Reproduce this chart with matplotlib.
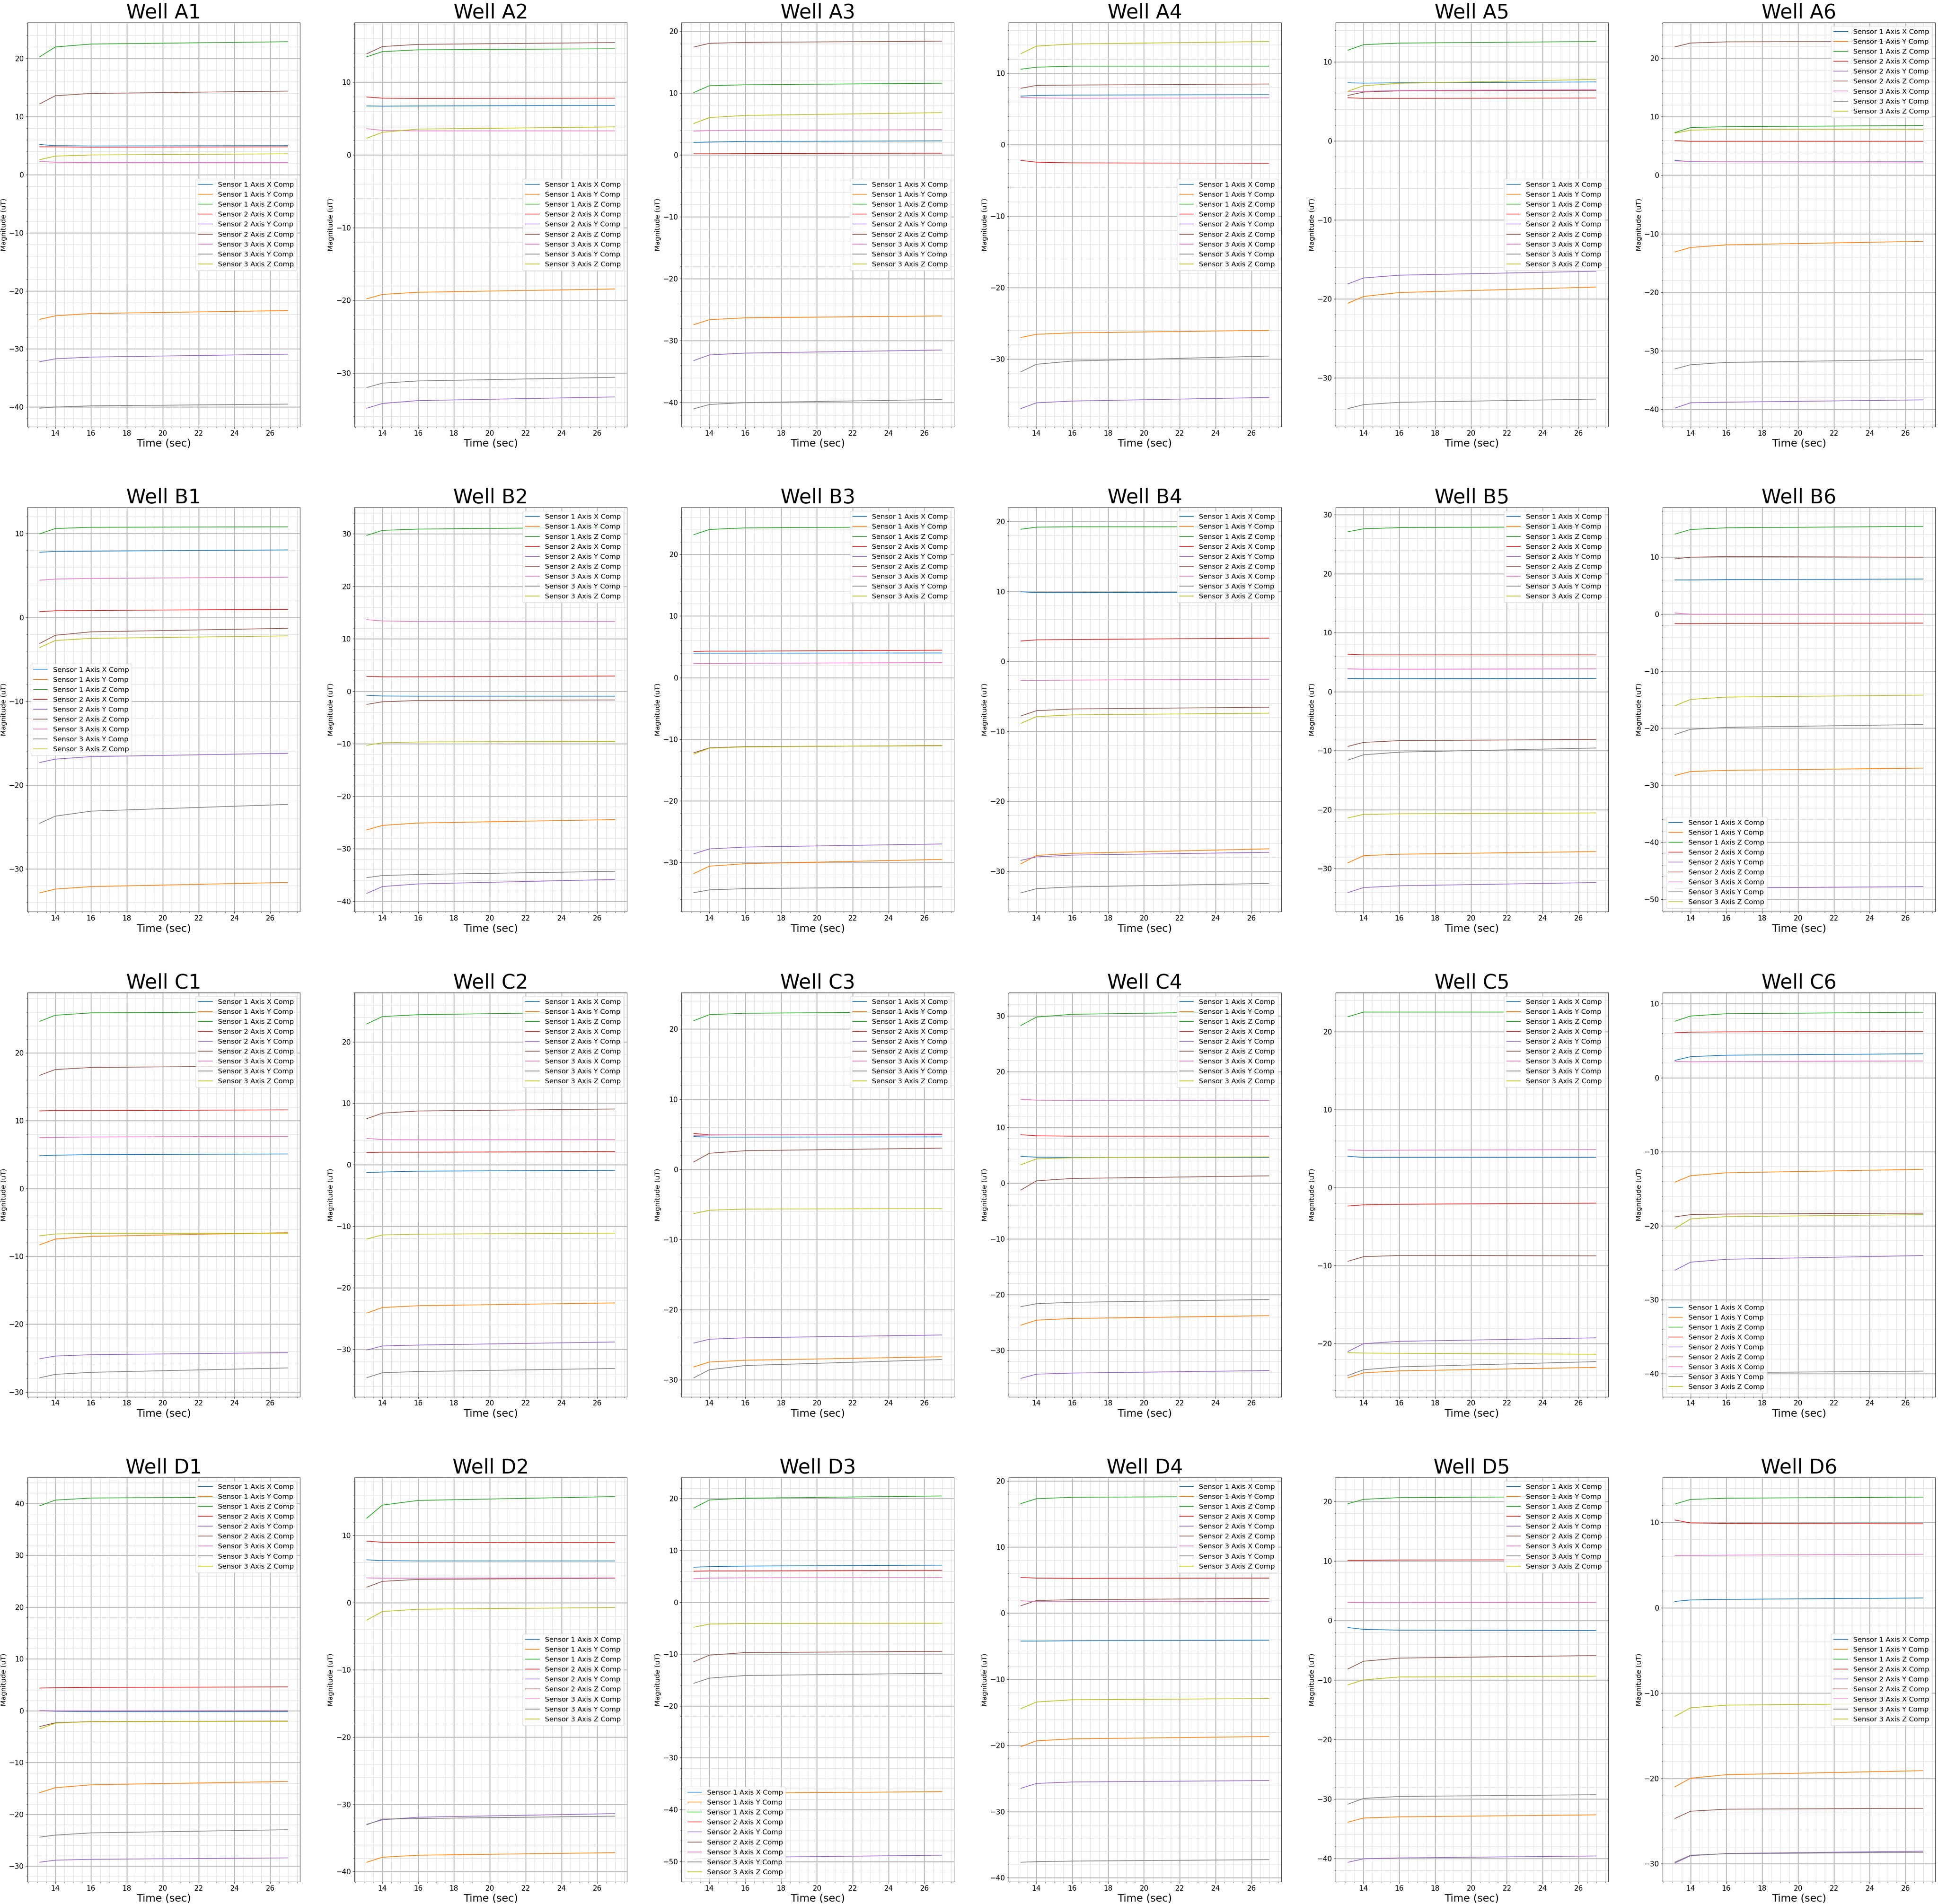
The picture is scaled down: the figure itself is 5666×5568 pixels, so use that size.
import matplotlib
matplotlib.use("Agg")
import matplotlib.pyplot as plt
from matplotlib.ticker import AutoMinorLocator

# ---------------- data ----------------
TIME = [13.13, 14.0, 16.0, 26.97]   # seconds at which values were read

LABELS = ["Sensor 1 Axis X Comp", "Sensor 1 Axis Y Comp", "Sensor 1 Axis Z Comp",
          "Sensor 2 Axis X Comp", "Sensor 2 Axis Y Comp", "Sensor 2 Axis Z Comp",
          "Sensor 3 Axis X Comp", "Sensor 3 Axis Y Comp", "Sensor 3 Axis Z Comp"]

WELLS = ["A1", "A2", "A3", "A4", "A5", "A6",
         "B1", "B2", "B3", "B4", "B5", "B6",
         "C1", "C2", "C3", "C4", "C5", "C6",
         "D1", "D2", "D3", "D4", "D5", "D6"]

# each well: 9 series (order as LABELS), values at TIME
A1 = [[5.2, 5.0, 4.95, 5.0], [-24.9, -24.3, -23.9, -23.4], [20.3, 22.0, 22.5, 22.9],
      [4.8, 4.8, 4.75, 4.8], [-32.2, -31.7, -31.4, -30.9], [12.2, 13.6, 14.0, 14.4],
      [2.3, 2.15, 2.1, 2.1], [-40.2, -40.0, -39.8, -39.5], [2.6, 3.2, 3.4, 3.6]]
A2 = [[6.73, 6.7, 6.73, 6.8], [-19.8, -19.2, -18.9, -18.45], [13.5, 14.2, 14.45, 14.6],
      [7.96, 7.8, 7.76, 7.8], [-34.85, -34.2, -33.8, -33.3], [13.9, 14.9, 15.2, 15.45],
      [3.6, 3.37, 3.3, 3.3], [-32.0, -31.4, -31.1, -30.6], [2.3, 3.1, 3.55, 3.85]]
A3 = [[2.05, 2.1, 2.2, 2.28], [-27.4, -26.6, -26.3, -26.0], [10.1, 11.2, 11.35, 11.6],
      [0.2, 0.2, 0.23, 0.3], [-33.2, -32.3, -32.0, -31.5], [17.45, 18.05, 18.2, 18.4],
      [3.86, 3.95, 4.0, 4.1], [-41.0, -40.3, -40.0, -39.5], [5.1, 6.05, 6.4, 6.85]]
A4 = [[6.8, 6.9, 6.95, 7.0], [-27.0, -26.55, -26.35, -26.0], [10.57, 10.85, 11.0, 11.0],
      [-2.2, -2.45, -2.55, -2.6], [-36.95, -36.15, -35.9, -35.4], [7.9, 8.3, 8.35, 8.5],
      [6.6, 6.55, 6.5, 6.55], [-31.8, -30.75, -30.3, -29.6], [12.75, 13.8, 14.1, 14.45]]
A5 = [[7.37, 7.33, 7.37, 7.48], [-20.55, -19.7, -19.2, -18.5], [11.5, 12.2, 12.4, 12.6],
      [5.47, 5.4, 5.4, 5.44], [-18.1, -17.35, -17.0, -16.5], [5.77, 6.2, 6.35, 6.4],
      [6.28, 6.3, 6.4, 6.5], [-33.9, -33.4, -33.1, -32.7], [6.3, 7.0, 7.3, 7.8]]
A6 = [[2.55, 2.3, 2.3, 2.3], [-13.1, -12.35, -11.9, -11.3], [7.3, 8.15, 8.3, 8.5],
      [5.9, 5.8, 5.8, 5.8], [-39.8, -38.9, -38.8, -38.4], [21.95, 22.6, 22.8, 22.9],
      [2.45, 2.35, 2.3, 2.25], [-33.1, -32.4, -32.0, -31.5], [7.2, 7.7, 7.85, 7.8]]
B1 = [[7.77, 7.87, 7.9, 8.05], [-32.85, -32.4, -32.1, -31.6], [9.97, 10.6, 10.75, 10.8],
      [0.69, 0.79, 0.83, 0.96], [-17.3, -16.9, -16.6, -16.2], [-3.1, -2.13, -1.72, -1.3],
      [4.44, 4.57, 4.65, 4.8], [-24.55, -23.7, -23.1, -22.3], [-3.6, -2.75, -2.5, -2.2]]
B2 = [[-0.77, -0.9, -0.93, -0.93], [-26.4, -25.55, -25.1, -24.45], [29.7, 30.65, 30.9, 31.25],
      [2.85, 2.75, 2.75, 2.9], [-38.5, -37.2, -36.7, -35.85], [-2.5, -2.0, -1.75, -1.65],
      [13.65, 13.4, 13.3, 13.3], [-35.5, -35.1, -34.9, -34.3], [-10.3, -9.8, -9.65, -9.55]]
B3 = [[3.97, 3.97, 3.97, 4.0], [-31.8, -30.6, -30.2, -29.5], [23.2, 24.05, 24.3, 24.5],
      [4.25, 4.3, 4.3, 4.45], [-28.6, -27.8, -27.5, -27.0], [-12.2, -11.4, -11.2, -11.05],
      [2.3, 2.3, 2.33, 2.43], [-34.9, -34.45, -34.25, -33.95], [-12.4, -11.45, -11.25, -11.0]]
B4 = [[9.95, 9.83, 9.83, 9.88], [-28.95, -27.75, -27.45, -26.8], [18.9, 19.2, 19.25, 19.25],
      [2.92, 3.08, 3.13, 3.33], [-28.45, -27.95, -27.7, -27.3], [-7.8, -7.05, -6.8, -6.55],
      [-2.72, -2.72, -2.67, -2.55], [-33.1, -32.5, -32.25, -31.75], [-8.85, -7.9, -7.65, -7.4]]
B5 = [[2.24, 2.2, 2.2, 2.24], [-29.0, -27.8, -27.55, -27.1], [27.1, 27.6, 27.8, 27.95],
      [6.34, 6.24, 6.24, 6.24], [-34.05, -33.2, -32.9, -32.35], [-9.27, -8.6, -8.3, -8.1],
      [3.85, 3.8, 3.8, 3.85], [-11.6, -10.7, -10.25, -9.55], [-21.4, -20.8, -20.7, -20.55]]
B6 = [[6.0, 6.0, 6.06, 6.16], [-28.3, -27.6, -27.4, -27.0], [14.05, 14.85, 15.15, 15.4],
      [-1.67, -1.67, -1.62, -1.57], [-48.2, -48.0, -48.0, -47.8], [9.7, 10.0, 10.1, 10.0],
      [0.2, 0.0, 0.0, 0.0], [-21.1, -20.2, -19.85, -19.35], [-16.06, -14.95, -14.55, -14.2]]
C1 = [[4.84, 4.92, 5.0, 5.1], [-8.3, -7.45, -7.05, -6.5], [24.66, 25.55, 25.9, 26.05],
      [11.45, 11.5, 11.5, 11.6], [-25.1, -24.7, -24.5, -24.2], [16.7, 17.55, 17.85, 18.1],
      [7.5, 7.55, 7.6, 7.7], [-27.9, -27.4, -27.1, -26.45], [-6.96, -6.7, -6.6, -6.6]]
C2 = [[-1.26, -1.17, -1.03, -0.9], [-24.1, -23.2, -22.9, -22.45], [22.9, 24.1, 24.4, 24.85],
      [2.0, 2.05, 2.05, 2.15], [-30.1, -29.45, -29.3, -28.8], [7.5, 8.4, 8.75, 9.07],
      [4.3, 4.1, 4.07, 4.1], [-34.6, -33.8, -33.6, -33.1], [-12.05, -11.4, -11.27, -11.1]]
C3 = [[4.67, 4.6, 4.6, 4.63], [-28.15, -27.45, -27.2, -26.7], [21.2, 22.05, 22.25, 22.45],
      [5.12, 4.92, 4.92, 4.96], [-24.75, -24.2, -24.0, -23.6], [1.07, 2.3, 2.66, 3.03],
      [4.84, 4.88, 4.92, 5.04], [-29.7, -28.55, -27.95, -27.1], [-6.3, -5.82, -5.65, -5.6]]
C4 = [[4.8, 4.65, 4.6, 4.6], [-25.5, -24.6, -24.3, -23.8], [28.3, 29.8, 30.3, 30.8],
      [8.68, 8.48, 8.42, 8.42], [-35.05, -34.3, -34.1, -33.65], [-1.24, 0.41, 0.83, 1.3],
      [15.04, 14.88, 14.83, 14.83], [-22.17, -21.65, -21.4, -20.9], [3.3, 4.34, 4.55, 4.7]]
C5 = [[4.02, 3.87, 3.87, 3.87], [-24.37, -23.74, -23.48, -23.04], [21.9, 22.5, 22.5, 22.5],
      [-2.36, -2.21, -2.14, -1.99], [-21.0, -20.0, -19.7, -19.25], [-9.44, -8.85, -8.7, -8.74],
      [4.83, 4.76, 4.8, 4.87], [-24.07, -23.34, -22.97, -22.3], [-21.16, -21.2, -21.23, -21.35]]
C6 = [[2.34, 2.84, 3.04, 3.23], [-14.1, -13.24, -12.85, -12.38], [7.63, 8.33, 8.64, 8.84],
      [6.07, 6.15, 6.19, 6.27], [-26.0, -24.92, -24.53, -24.03], [-18.8, -18.5, -18.42, -18.3],
      [2.22, 2.14, 2.18, 2.26], [-40.1, -39.9, -39.84, -39.64], [-20.37, -19.08, -18.77, -18.5]]
D1 = [[0.05, -0.1, -0.17, -0.17], [-15.8, -14.86, -14.3, -13.65], [39.55, 40.65, 41.05, 41.27],
      [4.38, 4.44, 4.5, 4.6], [-29.23, -28.84, -28.67, -28.4], [-3.05, -2.33, -2.1, -2.0],
      [0.05, 0.0, 0.0, 0.05], [-24.4, -24.0, -23.57, -22.96], [-3.5, -2.4, -2.1, -2.05]]
D2 = [[6.37, 6.24, 6.2, 6.2], [-38.6, -37.86, -37.56, -37.18], [12.56, 14.5, 15.2, 15.77],
      [9.15, 8.97, 8.93, 8.93], [-32.95, -32.3, -31.9, -31.37], [2.3, 3.16, 3.46, 3.63],
      [3.68, 3.63, 3.63, 3.68], [-33.03, -32.18, -32.1, -31.75], [-2.6, -1.32, -0.98, -0.73]]
D3 = [[6.76, 6.87, 6.98, 7.15], [-37.25, -37.03, -36.8, -36.53], [18.18, 19.73, 20.07, 20.5],
      [5.99, 6.04, 6.04, 6.15], [-49.56, -49.33, -49.2, -48.78], [-11.47, -10.2, -9.7, -9.48],
      [4.55, 4.66, 4.71, 4.77], [-15.63, -14.63, -14.13, -13.69], [-4.82, -4.21, -4.1, -4.05]]
D4 = [[-4.22, -4.22, -4.17, -4.09], [-20.17, -19.3, -19.0, -18.65], [16.57, 17.3, 17.52, 17.65],
      [5.39, 5.3, 5.26, 5.3], [-26.48, -25.74, -25.52, -25.3], [1.13, 1.91, 2.04, 2.22],
      [1.87, 1.74, 1.74, 1.78], [-37.65, -37.57, -37.48, -37.26], [-14.43, -13.43, -13.09, -12.91]]
D5 = [[-1.2, -1.5, -1.64, -1.69], [-33.9, -33.2, -33.0, -32.66], [19.6, 20.34, 20.63, 20.82],
      [10.1, 10.1, 10.14, 10.19], [-40.63, -40.05, -39.9, -39.57], [-8.16, -6.86, -6.33, -5.9],
      [3.04, 3.0, 3.0, 3.04], [-30.87, -29.9, -29.57, -29.28], [-10.82, -10.0, -9.5, -9.37]]
D6 = [[0.74, 0.91, 0.98, 1.14], [-20.98, -19.97, -19.56, -19.09], [12.15, 12.69, 12.83, 12.96],
      [10.27, 9.93, 9.87, 9.83], [-29.9, -29.06, -28.79, -28.52], [-24.68, -23.84, -23.6, -23.5],
      [6.13, 6.13, 6.16, 6.26], [-29.8, -28.99, -28.82, -28.65], [-12.73, -11.72, -11.41, -11.21]]

WELL_DATA = [A1, A2, A3, A4, A5, A6, B1, B2, B3, B4, B5, B6,
             C1, C2, C3, C4, C5, C6, D1, D2, D3, D4, D5, D6]

YLIMS = [(-43.4, 26.2), (-37.4, 18.2), (-43.9, 21.4), (-39.5, 17.1), (-36.2, 15.0), (-43.0, 26.1),
         (-35.1, 13.1), (-42.0, 35.0), (-38.0, 27.6), (-35.8, 22.0), (-37.3, 31.2), (-52.2, 18.7),
         (-30.7, 28.9), (-37.7, 28.0), (-32.4, 25.2), (-38.35, 34.2), (-26.8, 25.0), (-43.1, 11.5),
         (-33.0, 45.0), (-41.5, 18.6), (-53.9, 24.05), (-40.6, 20.5), (-43.9, 24.0), (-32.1, 15.25)]

LEGEND_LOCS = ["center right"] * 5 + ["upper right"] + \
              ["center left", "upper right", "upper right", "upper right", "upper right", "lower left"] + \
              ["upper right"] * 5 + ["lower left"] + \
              ["upper right", "center right", "lower left", "upper right", "upper right", "center right"]

COLORS = ["C0", "C1", "C2", "C3", "C4", "C5", "C6", "C7", "C8"]

# ---------------- figure ----------------
W, H = 5666, 5568
fig = plt.figure(figsize=(W / 100, H / 100), dpi=100)

LEFT0, COL_PITCH, AX_W = 80, 956.2, 797
TOP0, ROW_PITCH, AX_H = 66, 1418.3, 1182

for k, (well, series) in enumerate(zip(WELLS, WELL_DATA)):
    r, c = divmod(k, 6)
    x0 = LEFT0 + c * COL_PITCH
    top = TOP0 + r * ROW_PITCH
    ax = fig.add_axes([x0 / W, 1 - (top + AX_H) / H, AX_W / W, AX_H / H])
    for vals, lab, col in zip(series, LABELS, COLORS):
        ax.plot(TIME, vals, color=col, label=lab, linewidth=1.5)
    ax.set_xlim(12.44, 27.66)
    ax.set_ylim(*YLIMS[k])
    ax.set_xticks([14, 16, 18, 20, 22, 24, 26])
    ax.xaxis.set_minor_locator(AutoMinorLocator())
    ax.yaxis.set_minor_locator(AutoMinorLocator())
    ax.grid(which="major", color="#bdbdbd", linewidth=2.0)
    ax.grid(which="minor", color="#d9d9d9", linewidth=0.8)
    ax.set_axisbelow(True)
    ax.tick_params(axis="both", which="major", labelsize=15)
    ax.set_title(f"Well {well}", fontsize=42)
    ax.set_xlabel("Time (sec)", fontsize=22)
    ax.set_ylabel("Magnitude (uT)", fontsize=14.5)
    ax.legend(loc=LEGEND_LOCS[k], fontsize=14.5)

fig.savefig("out.png", dpi=100)
